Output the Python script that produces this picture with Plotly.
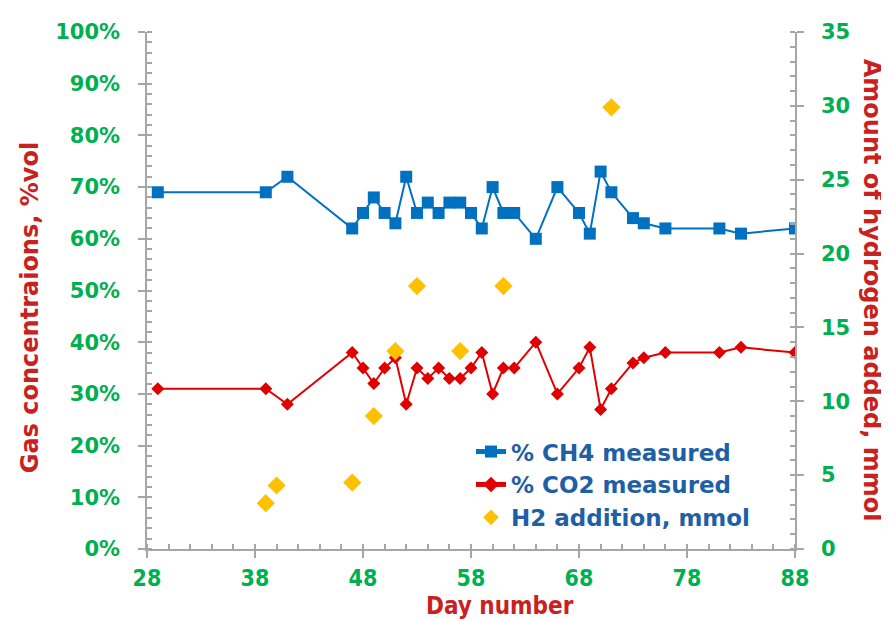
import plotly.graph_objects as go

# Data
days = [29, 39, 41, 47, 48, 49, 50, 51, 52, 53, 54, 55, 56, 57, 58, 59, 60, 61, 62, 64,
        66, 68, 69, 70, 71, 73, 74, 76, 81, 83, 88]
ch4_pct = [69, 69, 72, 62, 65, 68, 65, 63, 72, 65, 67, 65, 67, 67, 65, 62, 70, 65, 65, 60,
           70, 65, 61, 73, 69, 64, 63, 62, 62, 61, 62]
co2_pct = [31, 31, 28, 38, 35, 32, 35, 37, 28, 35, 33, 35, 33, 33, 35, 38, 30, 35, 35, 40,
           30, 35, 39, 27, 31, 36, 37, 38, 38, 39, 38]
h2_days = [39, 40, 47, 49, 51, 53, 57, 61, 71]
h2_mmol = [3.1, 4.3, 4.5, 9.0, 13.4, 17.8, 13.4, 17.8, 29.9]

FONT = "DejaVu Sans"
FONT_C = "DejaVu Sans Condensed"
GREEN = "#00B050"
TITLE_RED = "#C9211E"
LEG_BLUE = "#1F5FA6"
AXIS_GREY = "#A6A6A6"

fig = go.Figure()
fig.add_trace(go.Scatter(x=days, y=ch4_pct, name="% CH4 measured", mode="lines+markers",
                         line=dict(color="#0070C0", width=2),
                         marker=dict(symbol="square", size=12, color="#0070C0")))
fig.add_trace(go.Scatter(x=days, y=co2_pct, name="% CO2 measured", mode="lines+markers",
                         line=dict(color="#E00000", width=2),
                         marker=dict(symbol="diamond", size=10, color="#E00000")))
fig.add_trace(go.Scatter(x=h2_days, y=h2_mmol, name="H2 addition, mmol", mode="markers",
                         yaxis="y2",
                         marker=dict(symbol="diamond", size=14, color="#FFC000")))

ytickfont = dict(family=FONT, size=21, color=GREEN, weight="bold")
xtickfont = dict(family=FONT_C, size=23, color=GREEN, weight="bold")

fig.update_layout(
    width=881, height=613,
    margin=dict(l=139, r=94, t=17, b=72),
    paper_bgcolor="white", plot_bgcolor="white",
    font=dict(family=FONT),
    showlegend=True,
    legend=dict(x=0.5, y=0.23, xanchor="left", yanchor="top",
                font=dict(family=FONT, size=23, color=LEG_BLUE, weight="bold"),
                bgcolor="rgba(0,0,0,0)", tracegroupgap=0, itemwidth=30,
                itemsizing="constant"),
    xaxis=dict(range=[28, 88], dtick=10, tick0=28, showgrid=False, zeroline=False,
               showline=True, linecolor=AXIS_GREY, linewidth=1.5,
               ticks="outside", ticklen=7, tickcolor=AXIS_GREY, tickwidth=1.5,
               minor=dict(dtick=2, tick0=28, ticks="inside", ticklen=5, tickcolor=AXIS_GREY),
               tickfont=xtickfont, ticklabelstandoff=1),
    yaxis=dict(range=[0, 100], dtick=10, ticksuffix="%", showgrid=False, zeroline=False,
               showline=True, linecolor=AXIS_GREY, linewidth=1.5,
               ticks="outside", ticklen=7, tickcolor=AXIS_GREY, tickwidth=1.5,
               minor=dict(dtick=2, ticks="inside", ticklen=5, tickcolor=AXIS_GREY),
               tickfont=ytickfont, ticklabelstandoff=14),
    yaxis2=dict(range=[0, 35], dtick=5, overlaying="y", side="right", showgrid=False,
                zeroline=False, showline=True, linecolor=AXIS_GREY, linewidth=1.5,
                ticks="outside", ticklen=7, tickcolor=AXIS_GREY, tickwidth=1.5,
                minor=dict(dtick=1, ticks="inside", ticklen=5, tickcolor=AXIS_GREY),
                tickfont=ytickfont, ticklabelstandoff=13),
    annotations=[
        dict(text="Gas concentraions, %vol", xref="paper", yref="paper", x=-0.181, y=0.467,
             xanchor="center", yanchor="middle", textangle=-90, showarrow=False,
             font=dict(family=FONT, size=24, color=TITLE_RED, weight="bold")),
        dict(text="Amount of hydrogen added, mmol", xref="paper", yref="paper", x=1.12, y=0.5,
             xanchor="center", yanchor="middle", textangle=90, showarrow=False,
             font=dict(family=FONT, size=24, color=TITLE_RED, weight="bold")),
        dict(text="Day number", xref="paper", yref="paper", x=0.545, y=-0.11,
             xanchor="center", yanchor="middle", showarrow=False,
             font=dict(family=FONT_C, size=24, color=TITLE_RED, weight="bold")),
    ],
)

fig.write_html("out.html")
